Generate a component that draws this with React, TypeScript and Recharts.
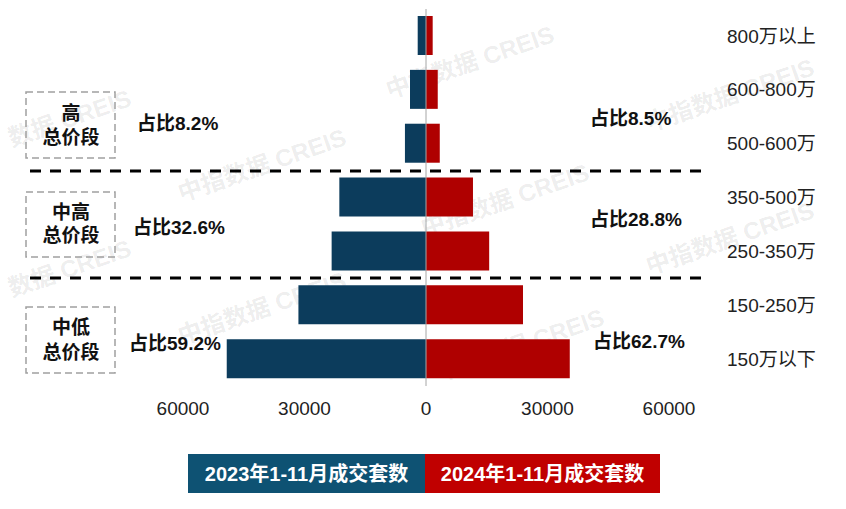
import React from "react";
import { BarChart, Bar, XAxis, YAxis, ReferenceLine } from "recharts";

const categories = ["800万以上", "600-800万", "500-600万", "350-500万", "250-350万", "150-250万", "150万以下"];
const sales2023 = [2050, 3950, 5200, 21400, 23300, 31500, 49200];
const sales2024 = [1650, 2900, 3400, 11600, 15600, 23950, 35500];
const xTicks = [-60000, -30000, 0, 30000, 60000];

const groupNames = [["高", "总价段"], ["中高", "总价段"], ["中低", "总价段"]];
const share2023 = ["占比8.2%", "占比32.6%", "占比59.2%"];
const share2024 = ["占比8.5%", "占比28.8%", "占比62.7%"];
const seriesNames = ["2023年1-11月成交套数", "2024年1-11月成交套数"];

const BLUE = "#0C3C5C";
const RED = "#AF0000";
const LEGEND_BLUE = "#0E5273";
const LEGEND_RED = "#C00000";
const FONT = "'Liberation Sans', Arial, 'Noto Sans CJK SC', sans-serif";

// left side drawn as negative numbers so the bars grow away from 0
const data = categories.map((name, i) => ({
  name,
  y2023: -sales2023[i],
  y2024: sales2024[i],
}));

// rough spots of the faint 中指数据 CREIS watermark
const marks = [
  [262, 165], [470, 62], [505, 200], [730, 95],
  [262, 308], [520, 345], [730, 238],
];
// the two at the left edge only show their tail
const edgeMarks = [[9, 139], [9, 289]];

// overlay layout (group boxes, share labels, separators)
const boxY = [[92, 158], [192, 257], [307, 373]];
const nameY = [[113, 137], [212, 235], [327, 352]];
const leftShare = [[137, 123], [133, 227], [129, 343]];
const rightShare = [[590, 118], [590, 219], [593, 341]];
const sepY = [171, 278];

const CategoryTick = (props: any) => {
  const { x, y, payload } = props;
  return (
    <text x={x} y={y} dy="0.35em" textAnchor="start" fontSize={19} fill="#222" fontFamily={FONT}>
      {payload.value}
    </text>
  );
};

const wmStyle = {
  fontSize: 24,
  fontWeight: "bold" as const,
  fill: "#000",
  fillOpacity: 0.085,
  fontFamily: FONT,
};

export default function App() {
  return (
    <div style={{ position: "absolute", left: 0, top: 0, width: 846, height: 509, background: "#fff", overflow: "hidden" }}>
      {/* watermark under everything */}
      <svg width={846} height={509} style={{ position: "absolute", left: 0, top: 0 }}>
        {marks.map(([cx, cy], i) => (
          <text
            key={i}
            x={cx}
            y={cy}
            textAnchor="middle"
            dominantBaseline="central"
            transform={`rotate(-19 ${cx} ${cy})`}
            {...wmStyle}
          >
            中指数据 CREIS
          </text>
        ))}
        {edgeMarks.map(([cx, cy], i) => (
          <text
            key={`e${i}`}
            x={cx}
            y={cy}
            textAnchor="start"
            dominantBaseline="central"
            transform={`rotate(-19 ${cx} ${cy})`}
            {...wmStyle}
          >
            数据 CREIS
          </text>
        ))}
      </svg>

      <div style={{ position: "absolute", left: 0, top: 0 }}>
        <BarChart
          width={846}
          height={509}
          data={data}
          layout="vertical"
          stackOffset="sign"
          barSize={39}
          margin={{ top: 9, right: 0, bottom: 93, left: 183 }}
        >
          <XAxis
            type="number"
            domain={[-60000, 60000]}
            ticks={xTicks}
            axisLine={false}
            tickLine={false}
            tickSize={0}
            tickMargin={16}
            height={30}
            interval={0}
            tickFormatter={(v: number) => String(Math.abs(v))}
            tick={{ fontSize: 19, fill: "#222", fontFamily: FONT }}
          />
          <YAxis
            type="category"
            dataKey="name"
            orientation="right"
            width={177}
            axisLine={false}
            tickLine={false}
            tickSize={0}
            tickMargin={58}
            interval={0}
            tick={<CategoryTick />}
          />
          <Bar dataKey="y2023" stackId="a" fill={BLUE} isAnimationActive={false} />
          <Bar dataKey="y2024" stackId="a" fill={RED} isAnimationActive={false} />
          <ReferenceLine x={0} stroke="#A6A6A6" strokeWidth={1} />
        </BarChart>
      </div>

      {/* annotations and legend */}
      <svg width={846} height={509} style={{ position: "absolute", left: 0, top: 0, pointerEvents: "none" }}>
        {sepY.map((y, i) => (
          <line key={i} x1={30} x2={705} y1={y} y2={y} stroke="#000" strokeWidth={3} strokeDasharray="11 9" />
        ))}
        {boxY.map(([y0, y1], i) => (
          <rect key={i} x={26} y={y0} width={89} height={y1 - y0} fill="none" stroke="#A0A0A0" strokeWidth={1.5} strokeDasharray="7 4" />
        ))}
        {groupNames.map((lines, i) =>
          lines.map((t, j) => (
            <text
              key={`${i}-${j}`}
              x={71}
              y={nameY[i][j]}
              textAnchor="middle"
              dominantBaseline="central"
              fontSize={19}
              fontWeight="bold"
              fill="#111"
              fontFamily={FONT}
            >
              {t}
            </text>
          ))
        )}
        {share2023.map((t, i) => (
          <text key={`l${i}`} x={leftShare[i][0]} y={leftShare[i][1]} dominantBaseline="central" fontSize={19} fontWeight="bold" fill="#111" fontFamily={FONT}>
            {t}
          </text>
        ))}
        {share2024.map((t, i) => (
          <text key={`r${i}`} x={rightShare[i][0]} y={rightShare[i][1]} dominantBaseline="central" fontSize={19} fontWeight="bold" fill="#111" fontFamily={FONT}>
            {t}
          </text>
        ))}

        <rect x={188} y={454} width={237} height={39} fill={LEGEND_BLUE} />
        <rect x={425} y={454} width={235} height={39} fill={LEGEND_RED} />
        <text x={306.5} y={474} textAnchor="middle" dominantBaseline="central" fontSize={20} fontWeight="bold" fill="#fff" fontFamily={FONT}>
          {seriesNames[0]}
        </text>
        <text x={542.5} y={474} textAnchor="middle" dominantBaseline="central" fontSize={20} fontWeight="bold" fill="#fff" fontFamily={FONT}>
          {seriesNames[1]}
        </text>
      </svg>
    </div>
  );
}
